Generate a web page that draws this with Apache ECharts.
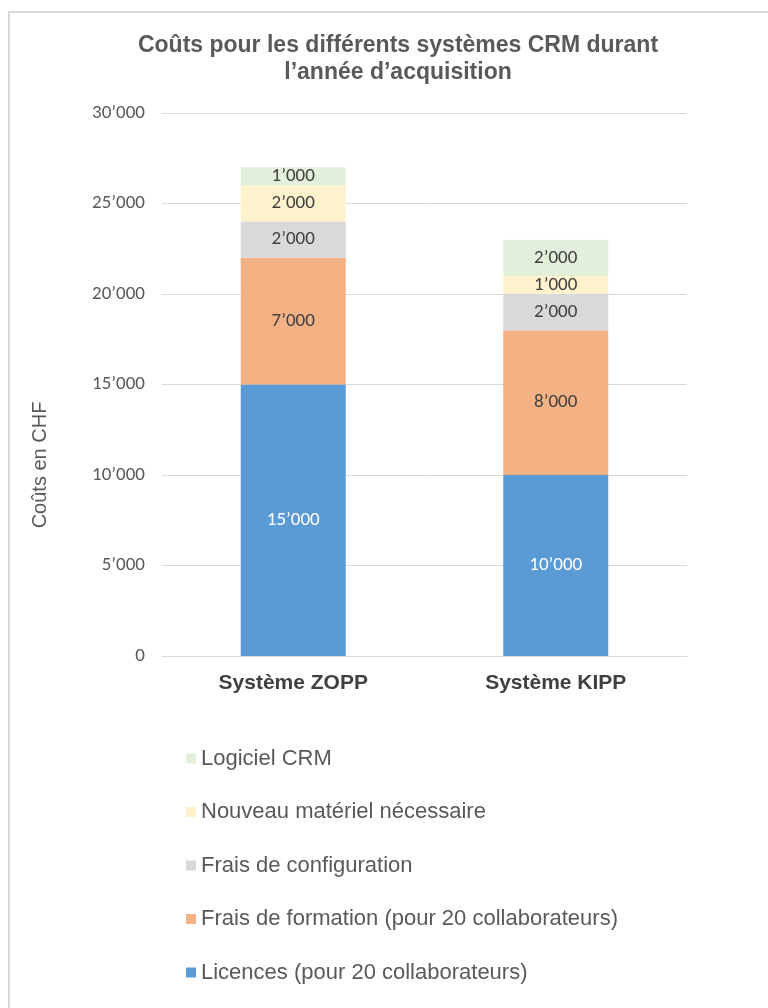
<!DOCTYPE html>
<html>
<head>
<meta charset="utf-8">
<script src="https://cdn.jsdelivr.net/npm/echarts@6/dist/echarts.min.js"></script>
<style>
  html, body { margin: 0; padding: 0; background: #ffffff; }
  #chart { width: 768px; height: 1008px; }
</style>
</head>
<body>
<div id="chart"></div>
<script>
// Cost breakdown per CRM system in the acquisition year (CHF)
const systems = ['Système ZOPP', 'Système KIPP'];
const licences = [15000, 10000];
const formation = [7000, 8000];
const configuration = [2000, 2000];
const materiel = [2000, 1000];
const logiciel = [1000, 2000];
const yTicks = { min: 0, max: 30000, interval: 5000 };

const fmt = v => {
  const s = String(Math.round(v));
  return s.replace(/\B(?=(\d{3})+(?!\d))/g, '\u2019');
};

const seriesDefs = [
  { name: 'Licences (pour 20 collaborateurs)', data: licences, color: '#5B9BD5', label: '#ffffff' },
  { name: 'Frais de formation (pour 20 collaborateurs)', data: formation, color: '#F4B183', label: '#404040' },
  { name: 'Frais de configuration', data: configuration, color: '#D9D9D9', label: '#404040' },
  { name: 'Nouveau matériel nécessaire', data: materiel, color: '#FFF2CC', label: '#404040' },
  { name: 'Logiciel CRM', data: logiciel, color: '#E2EFDA', label: '#404040' }
];

const chart = echarts.init(document.getElementById('chart'), null, { renderer: 'canvas' });

chart.setOption({
  animation: false,
  backgroundColor: '#ffffff',
  graphic: [
    {
      type: 'rect',
      shape: { x: 9, y: 12, width: 800, height: 1050 },
      style: { fill: 'none', stroke: '#D9D9D9', lineWidth: 2 },
      silent: true
    },
    {
      // vertical axis title
      type: 'text',
      x: 40,
      y: 465,
      rotation: Math.PI / 2,
      style: {
        text: 'Coûts en CHF',
        fontFamily: '"Liberation Sans", Arial, sans-serif',
        fontSize: 20,
        fill: '#595959',
        align: 'center',
        verticalAlign: 'middle'
      },
      silent: true
    }
  ],
  title: {
    text: 'Coûts pour les différents systèmes CRM durant\nl’année d’acquisition',
    left: 393,
    textAlign: 'center',
    top: 27,
    textStyle: {
      fontFamily: '"Liberation Sans", Arial, sans-serif',
      fontWeight: 'bold',
      fontSize: 23,
      color: '#595959',
      lineHeight: 27
    }
  },
  grid: { left: 162, right: 81, top: 113, bottom: 352, containLabel: false },
  legend: {
    orient: 'vertical',
    left: 181,
    top: 741,
    itemWidth: 10,
    itemHeight: 10,
    itemGap: 28.5,
    icon: 'rect',
    data: ['Logiciel CRM', 'Nouveau matériel nécessaire', 'Frais de configuration',
           'Frais de formation (pour 20 collaborateurs)', 'Licences (pour 20 collaborateurs)'],
    textStyle: {
      fontFamily: '"Liberation Sans", Arial, sans-serif',
      fontSize: 22,
      color: '#595959',
      lineHeight: 25
    }
  },
  xAxis: {
    type: 'category',
    data: systems,
    axisLine: { show: true, lineStyle: { color: '#D9D9D9', width: 1 } },
    axisTick: { show: false },
    axisLabel: {
      margin: 17,
      fontFamily: '"Liberation Sans", Arial, sans-serif',
      fontWeight: 'bold',
      fontSize: 21,
      color: '#404040'
    }
  },
  yAxis: {
    type: 'value',
    min: yTicks.min,
    max: yTicks.max,
    interval: yTicks.interval,
    axisLine: { show: false },
    axisTick: { show: false },
    splitLine: { lineStyle: { color: '#D9D9D9', width: 1 } },
    axisLabel: {
      margin: 17,
      fontFamily: 'Carlito, "Open Sans", "Liberation Sans", sans-serif',
      fontSize: 19,
      color: '#595959',
      formatter: v => fmt(v)
    }
  },
  series: seriesDefs.map(s => ({
    name: s.name,
    type: 'bar',
    stack: 'total',
    barWidth: '40%',
    data: s.data,
    itemStyle: { color: s.color },
    label: {
      show: true,
      position: 'inside',
      fontFamily: 'Carlito, "Open Sans", "Liberation Sans", sans-serif',
      fontSize: 19,
      color: s.label,
      formatter: p => fmt(p.value)
    }
  }))
});
</script>
</body>
</html>
